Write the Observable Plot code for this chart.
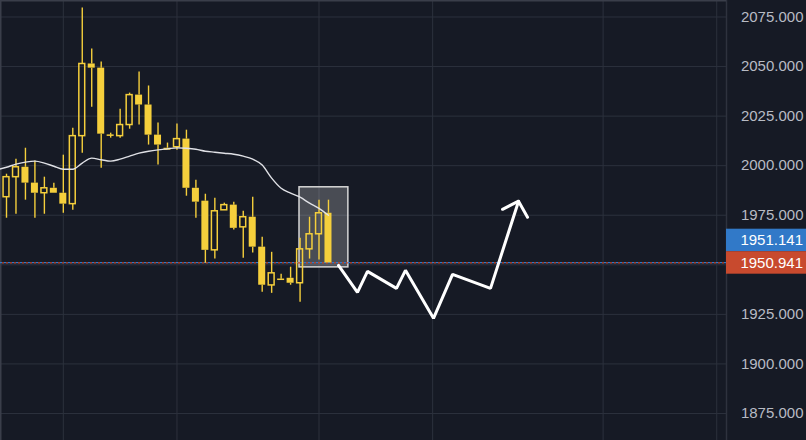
<!DOCTYPE html>
<html>
<head>
<meta charset="utf-8">
<script src="https://cdn.jsdelivr.net/npm/d3@7"></script>
<script src="https://cdn.jsdelivr.net/npm/@observablehq/plot@0.6"></script>
<style>
  html, body { margin: 0; padding: 0; background: #161a25; }
  #chart { width: 806px; height: 440px; overflow: hidden; }
</style>
</head>
<body>
<div id="chart"></div>
<script>
// ---- data ----
const opens  = [1984.1, 1994.2, 1999.2, 1991.2, 1986.1, 1988.6, 1986.1, 1980.6, 2014.9, 2051.3, 2049.2, 2015.4, 2014.9, 2020.5, 2035.6, 2030.6, 2015.4, 2008.8, 2009.3, 2013.4, 1988.6, 1982.1, 1957.3, 1977.5, 1980.1, 1968.9, 1974.0, 1958.9, 1939.6, 1942.7, 1943.2, 1940.7, 1957.8, 1965.4, 1976.0];
const highs  = [1995.7, 2003.3, 2008.8, 2002.3, 1994.2, 1991.2, 2005.3, 2018.9, 2079.5, 2058.8, 2052.3, 2016.4, 2028.5, 2036.6, 2047.2, 2040.2, 2021.5, 2011.4, 2021.0, 2017.9, 1992.7, 1985.6, 1983.6, 1981.1, 1981.6, 1977.0, 1984.1, 1963.9, 1956.3, 1945.3, 1948.8, 1963.4, 1974.0, 1982.6, 1982.6];
const lows   = [1973.5, 1975.5, 1982.6, 1973.5, 1975.5, 1986.1, 1976.0, 1977.5, 2006.3, 2029.5, 1998.7, 2013.9, 2013.9, 2018.4, 2020.5, 2010.4, 2000.3, 2007.8, 2007.8, 1984.6, 1973.5, 1950.8, 1952.9, 1977.5, 1967.5, 1953.3, 1955.9, 1936.2, 1935.6, 1942.7, 1939.7, 1931.1, 1952.9, 1952.4, 1950.941];
const closes = [1994.2, 1999.2, 1991.2, 1986.1, 1988.6, 1986.1, 1980.6, 2014.9, 2051.3, 2049.2, 2015.9, 2015.4, 2020.5, 2035.6, 2030.6, 2015.4, 2010.4, 2007.8, 2013.4, 1988.6, 1981.6, 1957.3, 1977.0, 1980.1, 1968.4, 1974.0, 1958.9, 1939.7, 1945.7, 1942.7, 1940.7, 1957.8, 1965.4, 1976.0, 1950.941];
// moving average, bar index -1 .. 34
const maValues = [1998.0, 1999.2, 2000.8, 2001.8, 2002.3, 2001.3, 1999.7, 1998.2, 1998.2, 2001.3, 2003.8, 2003.0, 2002.3, 2003.3, 2004.8, 2006.3, 2007.3, 2008.0, 2008.5, 2009.0, 2008.8, 2008.3, 2007.3, 2006.8, 2006.3, 2005.8, 2004.8, 2003.3, 2000.3, 1993.7, 1988.6, 1986.1, 1984.1, 1981.1, 1978.5, 1975.0];
// projected path (bar index, price)
const projIdx   = [35.06, 37.06, 38.12, 41.18, 42.13, 45.09, 47.10, 51.11, 54.07];
const projPrice = [1949.7, 1936.1, 1946.7, 1938.1, 1947.2, 1923.0, 1945.2, 1938.1, 1982.1];
const headIdx   = [52.38, 54.07, 55.02];
const headPrice = [1978.0, 1982.1, 1974.0];
// highlight box
const boxIdx   = [30.94, 36.1];
const boxPrice = [1948.7, 1989.1];
// axis / grid
const yTicks  = [1875, 1900, 1925, 1950, 1975, 2000, 2025, 2050, 2075];
const yLabels = [1875, 1900, 1925, 1975, 2000, 2025, 2050, 2075];
const xGrid   = [6, 18, 33, 45, 63, 75];
const bidPrice = 1951.141;
const lastPrice = 1950.941;

// ---- styling ----
const BG = "#161a25", GRID = "#2c313d", GOLD = "#f5cf3c";
const BLUE = "#3179c8", RED = "#c84a2e";

const candles = opens.map((o, i) => ({
  i, open: o, high: highs[i], low: lows[i], close: closes[i],
  top: Math.max(o, closes[i]), bot: Math.min(o, closes[i])
}));
const upC = candles.filter(d => d.close > d.open);
const dnC = candles.filter(d => d.close < d.open);
const doji = candles.filter(d => d.close === d.open);
const ma = maValues.map((v, k) => ({i: k - 1, v}));
const proj = projIdx.map((x, k) => ({x, y: projPrice[k]}));
const head = headIdx.map((x, k) => ({x, y: headPrice[k]}));
const box = [{x1: boxIdx[0], x2: boxIdx[1], y1: boxPrice[0], y2: boxPrice[1]}];

const plot = Plot.plot({
  width: 806, height: 440,
  marginLeft: 0, marginRight: 80, marginTop: 0, marginBottom: 0,
  style: {background: BG, fontFamily: "Liberation Sans, Arial, sans-serif", overflow: "hidden"},
  x: {domain: [-0.634, 76.03], axis: null},
  y: {domain: [1861.38, 2083.32], axis: null},
  marks: [
    Plot.ruleY(yTicks, {stroke: GRID, strokeWidth: 1}),
    Plot.ruleX(xGrid, {stroke: GRID, strokeWidth: 1}),
    Plot.ruleX([76.03], {stroke: "#2e323e", strokeWidth: 1.5}),
    Plot.ruleY([2083.32], {stroke: "#3a3e4a", strokeWidth: 2}),
    Plot.ruleX([-0.634], {stroke: "#3a3e4a", strokeWidth: 2}),
    Plot.rect(box, {x1: "x1", x2: "x2", y1: "y1", y2: "y2", fill: "rgba(255,255,255,0.22)", stroke: "#d6d6d6", strokeWidth: 1.5}),
    Plot.ruleY([bidPrice], {stroke: BLUE, strokeWidth: 1.2, strokeDasharray: "2,2"}),
    Plot.ruleY([lastPrice], {stroke: RED, strokeWidth: 1.2, strokeDasharray: "2,2", strokeDashoffset: 2}),
    // wicks
    Plot.ruleX(candles, {x: "i", y1: "high", y2: "top", stroke: GOLD, strokeWidth: 1.4}),
    Plot.ruleX(candles, {x: "i", y1: "bot", y2: "low", stroke: GOLD, strokeWidth: 1.4}),
    // bodies
    Plot.rect(dnC, {x1: d => d.i - 0.37, x2: d => d.i + 0.37, y1: "open", y2: "close", fill: GOLD}),
    Plot.rect(upC, {x1: d => d.i - 0.31, x2: d => d.i + 0.31, y1: "open", y2: "close", fill: "none", stroke: GOLD, strokeWidth: 1.5}),
    Plot.ruleY(doji, {y: "open", x1: d => d.i - 0.37, x2: d => d.i + 0.37, stroke: GOLD, strokeWidth: 1.5}),
    // moving average
    Plot.line(ma, {x: "i", y: "v", stroke: "#e0e1e6", strokeWidth: 1.4, curve: "monotone-x"}),
    // projection
    Plot.line(proj, {x: "x", y: "y", stroke: "#ffffff", strokeWidth: 3, strokeLinejoin: "miter"}),
    Plot.line(head, {x: "x", y: "y", stroke: "#ffffff", strokeWidth: 3, strokeLinejoin: "miter"}),
    // right axis
    Plot.axisY(yLabels, {anchor: "right", tickSize: 0, tickPadding: 0, dx: 77, textAnchor: "end",
      tickFormat: d => d.toFixed(3), fill: "#b8bbc4", fontSize: 15})
  ]
});

document.getElementById("chart").appendChild(plot);

// price tags on the right scale
const ys = plot.scale("y");
const svg = d3.select(plot);
const redY = ys.apply(lastPrice);
const tagH = 22.5;
const tags = [
  {label: bidPrice.toFixed(3), color: BLUE, cy: redY - tagH},
  {label: lastPrice.toFixed(3), color: RED, cy: redY}
];
const g = svg.append("g");
tags.forEach(t => {
  g.append("rect").attr("x", 726).attr("y", t.cy - tagH / 2).attr("width", 80).attr("height", tagH).attr("fill", t.color);
  g.append("text").attr("x", 803).attr("y", t.cy).attr("dy", "0.35em").attr("text-anchor", "end")
    .attr("fill", "#ffffff").attr("font-size", 15).attr("font-family", "Liberation Sans, Arial, sans-serif").text(t.label);
});
</script>
</body>
</html>
